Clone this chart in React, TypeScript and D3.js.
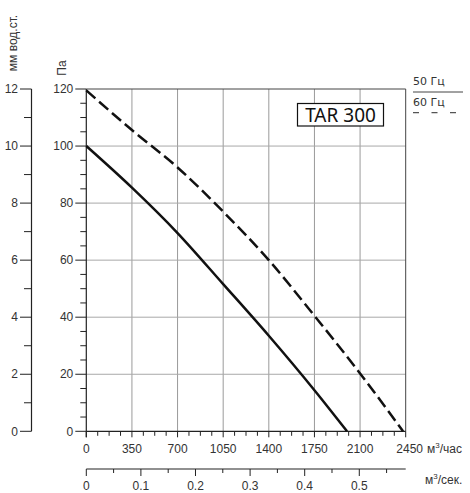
import React from "react";
import * as d3 from "d3";

const flowTicks = [0, 350, 700, 1050, 1400, 1750, 2100, 2450];
const paTicks = [0, 20, 40, 60, 80, 100, 120];
const mmTicks = [0, 2, 4, 6, 8, 10, 12];
const secTicks = [0, 0.1, 0.2, 0.3, 0.4, 0.5];

const flow50 = [0, 350, 700, 1050, 1400, 1750, 2000];
const pa50 = [100, 85.4, 69.5, 51.6, 33.5, 14.4, 0];
const flow60 = [0, 350, 700, 1050, 1400, 1750, 2100, 2430];
const pa60 = [119.5, 105.6, 92.5, 77, 60, 40.5, 20.3, 0];

const modelLabel = "TAR 300";
const legendLabels = ["50 Гц", "60 Гц"];

export default function App() {
  const x = d3.scaleLinear().domain([0, 2450]).range([86.3, 405.7]);
  const y = d3.scaleLinear().domain([0, 120]).range([431.3, 89]);
  const ymm = d3.scaleLinear().domain([0, 12]).range([431.3, 89]);
  const xs = d3.scaleLinear().domain([0, 0.585]).range([86.3, 405.7]);

  const line = d3
    .line<[number, number]>()
    .x((d) => x(d[0]))
    .y((d) => y(d[1]))
    .curve(d3.curveMonotoneX);

  const d50 = line(flow50.map((f, i) => [f, pa50[i]]) as [number, number][]) || "";
  const d60 = line(flow60.map((f, i) => [f, pa60[i]]) as [number, number][]) || "";

  const paMinor = d3.range(0, 121, 5).filter((v) => v % 20 !== 0);
  const mmMinor = d3.range(1, 12, 2);
  const flowMinor = d3.range(0, 2451, 87.5).filter((v) => v % 350 !== 0);
  const secMinor = [0.05, 0.15, 0.25, 0.35, 0.45, 0.55];

  const txt = "#333";
  const font = "'Liberation Sans', Arial, sans-serif";
  const x0 = x(0);
  const x1 = x(2450);
  const yb = y(0);
  const yt = y(120);
  const ySec = 469;

  return (
    <svg
      width={470}
      height={493}
      style={{ position: "absolute", left: 0, top: 0, background: "#fff" }}
      fontFamily={font}
    >
      <rect x={0} y={0} width={470} height={493} fill="#fff" />
      {/* grid */}
      {flowTicks.slice(1, -1).map((t) => (
        <line key={"gv" + t} x1={x(t)} x2={x(t)} y1={yt} y2={yb} stroke="#9a9a9a" strokeWidth={1} />
      ))}
      {paTicks.slice(1, -1).map((t) => (
        <line key={"gh" + t} x1={x0} x2={x1} y1={y(t)} y2={y(t)} stroke="#a8a8a8" strokeWidth={1} />
      ))}
      <line x1={x0} x2={x1} y1={yt} y2={yt} stroke="#444" strokeWidth={1} />
      <line x1={x1} x2={x1} y1={yt} y2={yb} stroke="#444" strokeWidth={1} />

      {/* Pa axis */}
      <line x1={x0} x2={x0} y1={yt} y2={yb + 6} stroke="#222" strokeWidth={1.2} />
      {paTicks.map((t) => (
        <g key={"pa" + t}>
          <line x1={x0 - 11} x2={x0} y1={y(t)} y2={y(t)} stroke="#222" strokeWidth={1} />
          <text x={x0 - 13} y={y(t)} dy="0.35em" textAnchor="end" fontSize={12} fill={txt}>
            {t}
          </text>
        </g>
      ))}
      {paMinor.map((t) => (
        <line key={"pam" + t} x1={x0 - 6} x2={x0} y1={y(t)} y2={y(t)} stroke="#222" strokeWidth={1} />
      ))}
      <text transform={`translate(66,68) rotate(-90)`} textAnchor="middle" fontSize={12} fill={txt}>
        Па
      </text>

      {/* mm axis */}
      <line x1={31.5} x2={31.5} y1={yt} y2={yb} stroke="#222" strokeWidth={1.2} />
      {mmTicks.map((t) => (
        <g key={"mm" + t}>
          <line x1={20} x2={31.5} y1={ymm(t)} y2={ymm(t)} stroke="#222" strokeWidth={1} />
          <text x={18} y={ymm(t)} dy="0.35em" textAnchor="end" fontSize={12} fill={txt}>
            {t}
          </text>
        </g>
      ))}
      {mmMinor.map((t) => (
        <line key={"mmm" + t} x1={24} x2={31.5} y1={ymm(t)} y2={ymm(t)} stroke="#222" strokeWidth={1} />
      ))}
      <text transform={`translate(17,43) rotate(-90)`} textAnchor="middle" fontSize={12} fill={txt}>
        мм вод.ст.
      </text>

      {/* flow axis m3/h */}
      <line x1={x0} x2={x1} y1={yb} y2={yb} stroke="#222" strokeWidth={1.2} />
      {flowTicks.map((t) => (
        <g key={"fx" + t}>
          <line x1={x(t)} x2={x(t)} y1={yb} y2={yb + 6} stroke="#222" strokeWidth={1} />
          <text
            x={x(t) + (t === 2450 ? 4 : 0)}
            y={453}
            textAnchor="middle"
            fontSize={12}
            fill={txt}
          >
            {t}
          </text>
        </g>
      ))}
      {flowMinor.map((t) => (
        <line key={"fxm" + t} x1={x(t)} x2={x(t)} y1={yb} y2={yb + 4.5} stroke="#222" strokeWidth={1} />
      ))}
      <text x={427} y={453} fontSize={12} fill={txt}>
        м<tspan dy={-5} fontSize={8}>3</tspan>
        <tspan dy={5}>/час</tspan>
      </text>

      {/* flow axis m3/s */}
      <line x1={x0} x2={xs(0.585)} y1={ySec} y2={ySec} stroke="#222" strokeWidth={1.2} />
      {secTicks.map((t) => (
        <g key={"sx" + t}>
          <line x1={xs(t)} x2={xs(t)} y1={ySec} y2={ySec + 7} stroke="#222" strokeWidth={1} />
          <text x={xs(t)} y={490} textAnchor="middle" fontSize={12} fill={txt}>
            {t === 0 ? "0" : t.toFixed(1)}
          </text>
        </g>
      ))}
      {secMinor.map((t) => (
        <line key={"sxm" + t} x1={xs(t)} x2={xs(t)} y1={ySec} y2={ySec + 4} stroke="#222" strokeWidth={1} />
      ))}
      <text x={425} y={484} fontSize={12} fill={txt}>
        м<tspan dy={-5} fontSize={8}>3</tspan>
        <tspan dy={5}>/сек.</tspan>
      </text>

      {/* curves */}
      <path d={d50} fill="none" stroke="#111" strokeWidth={2.5} />
      <path d={d60} fill="none" stroke="#111" strokeWidth={2.5} strokeDasharray="12,5" />

      {/* model box */}
      <rect x={297.5} y={103.5} width={86} height={22.5} fill="#fff" stroke="#111" strokeWidth={1.2} />
      <text
        x={340.5}
        y={121.5}
        textAnchor="middle"
        fontSize={19}
        fontFamily="'Noto Sans', sans-serif"
        fill="#111"
      >
        {modelLabel}
      </text>

      {/* legend */}
      <text x={413} y={85} fontSize={11} fontFamily="'DejaVu Sans', sans-serif" fill={txt}>
        {legendLabels[0]}
      </text>
      <line x1={413} x2={463} y1={92} y2={92} stroke="#444" strokeWidth={1} />
      <text x={413} y={106} fontSize={11} fontFamily="'DejaVu Sans', sans-serif" fill={txt}>
        {legendLabels[1]}
      </text>
      <line x1={413} x2={463} y1={112.7} y2={112.7} stroke="#555" strokeWidth={1.2} strokeDasharray="6,12.5" />
    </svg>
  );
}
